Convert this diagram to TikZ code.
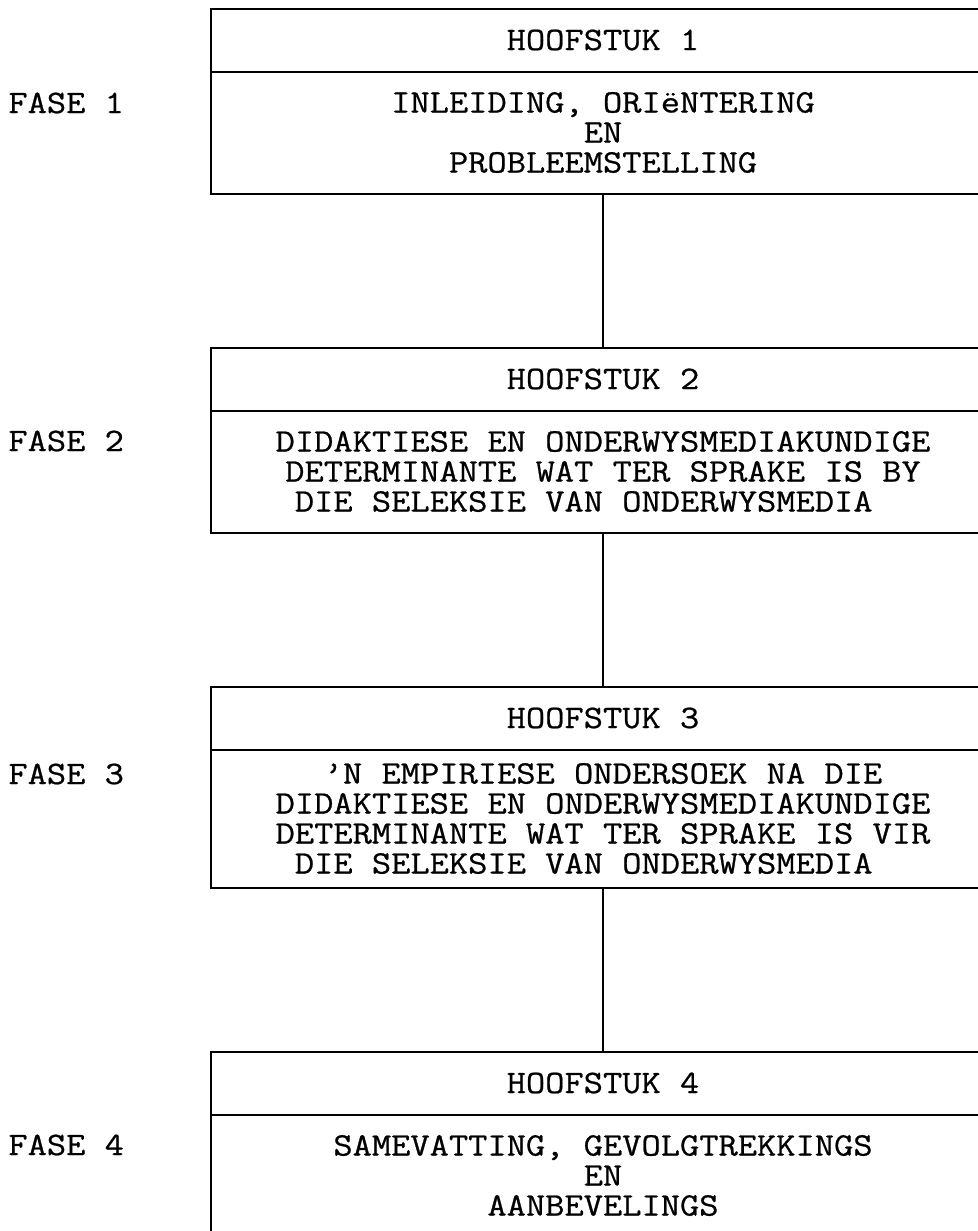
\documentclass[tikz,border=0pt]{standalone}
\usepackage{fontspec}
\newfontfamily\tikmono{Latin Modern Mono}[FakeStretch=1.14,FakeBold=0.7]
\usetikzlibrary{positioning}

\begin{document}
\begin{tikzpicture}[x=0.5pt,y=-0.5pt,font=\tikmono\fontsize{16.4}{15}\selectfont,
    node distance=77pt,
    kop/.style={draw,line width=1pt,outer sep=0pt,inner sep=0pt,minimum width=392pt,minimum height=31.5pt},
    inhoud/.style={kop,minimum height=61pt,align=center},
    fase/.style={anchor=west,inner sep=0pt}]
    \useasboundingbox (0,0) rectangle (978,1231);

    \node[kop] (h1) at (603,40) {HOOFSTUK 1};
    \node[inhoud] (b1) [below=0pt of h1] {INLEIDING, ORIëNTERING\\EN\\PROBLEEMSTELLING};

    \node[kop] (h2) [below=of b1] {HOOFSTUK 2};
    \node[inhoud] (b2) [below=0pt of h2] {DIDAKTIESE EN ONDERWYSMEDIAKUNDIGE\\DETERMINANTE WAT TER SPRAKE IS BY\\DIE SELEKSIE VAN ONDERWYSMEDIA\hphantom{XX}};

    \node[kop] (h3) [below=of b2] {HOOFSTUK 3};
    \node[inhoud,minimum height=69pt] (b3) [below=0pt of h3] {’N EMPIRIESE ONDERSOEK NA DIE\\DIDAKTIESE EN ONDERWYSMEDIAKUNDIGE\\DETERMINANTE WAT TER SPRAKE IS VIR\\DIE SELEKSIE VAN ONDERWYSMEDIA\hphantom{XX}};

    \node[kop] (h4) [below=82pt of b3] {HOOFSTUK 4};
    \node[inhoud] (b4) [below=0pt of h4] {SAMEVATTING, GEVOLGTREKKINGS\\EN\\AANBEVELINGS};

    \node[fase] (f1) at (8,103) {FASE 1};
    \node[fase] (f2) at (8,441) {FASE 2};
    \node[fase] (f3) at (8,774) {FASE 3};
    \node[fase] (f4) at (8,1145) {FASE 4};

    \draw[line width=0.6pt] (b1) -- (h2)
      (b2) -- (h3)
      (b3) -- (h4);
\end{tikzpicture}
\end{document}
